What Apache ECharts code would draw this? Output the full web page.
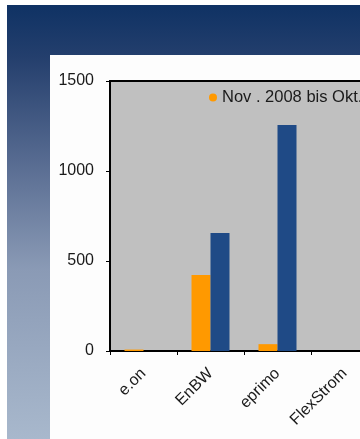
<!DOCTYPE html>
<html lang="de">
<head>
    <meta charset="UTF-8">
    <title>Chart</title>
    <script src="https://cdn.jsdelivr.net/npm/echarts@6/dist/echarts.min.js"></script>
</head>
<style type="text/css">
    body{
        margin:0;
        background:#fff;
    }
    .chart{
        width: 360px;
        height: 439px;
    }
</style>
<body>
    <div class="chart"></div>
</body>
<script type="text/javascript">
var categories = ['e.on', 'EnBW', 'eprimo', 'FlexStrom'];
var seriesNames = ['Nov . 2008 bis Okt. 2009', 'Nov . 2009 bis Okt. 2010'];
var valuesA = [8, 422, 38, 0];
var valuesB = [0, 656, 1256, 0];
var yTicks = [0, 500, 1000, 1500];

var font = 'Liberation Sans, Arial, sans-serif';

var option = {
    animation: false,
    graphic: [
        {
            type: 'rect',
            shape: { x: 7, y: 5, width: 360, height: 440 },
            silent: true,
            z: -10,
            style: {
                fill: new echarts.graphic.LinearGradient(0, 0, 0, 1, [
                    { offset: 0, color: '#0f3264' },
                    { offset: 0.12, color: '#243f6d' },
                    { offset: 0.35, color: '#566a90' },
                    { offset: 0.6, color: '#8a9ab5' },
                    { offset: 1, color: '#a9b9cd' }
                ])
            }
        },
        {
            type: 'rect',
            shape: { x: 50, y: 55, width: 320, height: 400 },
            silent: true,
            z: -9,
            style: { fill: '#fdfdfd' }
        }
    ],
    legend: {
        left: 204,
        top: 84,
        width: 600,
        orient: 'horizontal',
        itemWidth: 8,
        itemHeight: 8,
        itemGap: 20,
        icon: 'circle',
        textStyle: { fontFamily: font, fontSize: 16.5, color: '#1a1a1a' },
        data: seriesNames
    },
    grid: {
        left: 110,
        top: 81,
        width: 67 * categories.length,
        height: 270,
        outerBoundsMode: 'none',
        containLabel: false,
        show: true,
        backgroundColor: '#c0c0c0',
        borderColor: '#000',
        borderWidth: 2
    },
    xAxis: {
        type: 'category',
        data: categories,
        axisLine: { lineStyle: { color: '#000', width: 2 } },
        axisTick: { show: true, length: 4, lineStyle: { color: '#000' } },
        axisLabel: {
            rotate: 45,
            margin: 20,
            fontFamily: font,
            fontSize: 16,
            color: '#1a1a1a'
        }
    },
    yAxis: {
        type: 'value',
        min: yTicks[0],
        max: yTicks[yTicks.length - 1],
        interval: 500,
        splitLine: { show: false },
        axisLine: { show: true, lineStyle: { color: '#000', width: 2 } },
        axisTick: { show: true, length: 4, lineStyle: { color: '#000' } },
        axisLabel: {
            margin: 16,
            fontFamily: font,
            fontSize: 16,
            color: '#1a1a1a',
            formatter: function (v) { return String(v); }
        }
    },
    series: [
        {
            name: seriesNames[0],
            type: 'bar',
            data: valuesA,
            barWidth: 19,
            barGap: '0%',
            itemStyle: { color: '#ff9900' }
        },
        {
            name: seriesNames[1],
            type: 'bar',
            data: valuesB,
            barWidth: 19,
            barGap: '0%',
            itemStyle: { color: '#1f4a86' }
        }
    ]
};
var myChart = echarts.init(document.querySelector('.chart'));
myChart.setOption(option);
</script>
</html>
